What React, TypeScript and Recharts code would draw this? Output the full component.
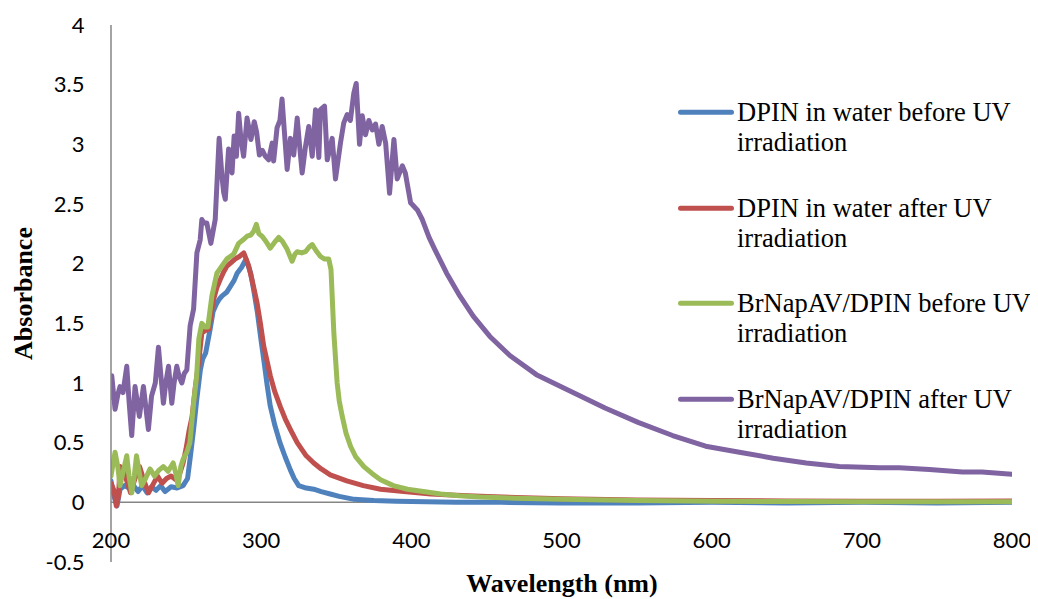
import React from 'react';
import { LineChart, Line, XAxis, YAxis, ReferenceLine } from 'recharts';

// DPIN in water before UV irradiation
const wlBlue = [200, 202, 204, 206, 209, 212, 215, 218, 221, 224, 227, 230, 233, 236, 240, 244, 248, 251, 253, 255, 257, 259.5, 261, 263, 266, 268, 270.5, 272, 274, 277, 279.5, 282, 284, 287, 289.5, 291, 293, 295, 297.5, 300, 302, 304, 306, 309, 312.5, 316, 319.5, 322, 325, 330, 335, 340, 346, 352, 362, 375, 390, 410, 430, 460, 500, 550, 600, 650, 700, 750, 800];
const absBlue = [0.18, 0.05, -0.03, 0.11, 0.14, 0.12, 0.14, 0.09, 0.14, 0.08, 0.13, 0.1, 0.14, 0.09, 0.13, 0.12, 0.14, 0.2, 0.4, 0.61, 0.85, 1.11, 1.2, 1.25, 1.45, 1.6, 1.67, 1.7, 1.73, 1.76, 1.81, 1.86, 1.92, 1.97, 2.03, 2.0, 1.92, 1.78, 1.59, 1.35, 1.17, 0.98, 0.81, 0.65, 0.5, 0.38, 0.27, 0.2, 0.14, 0.12, 0.11, 0.09, 0.07, 0.05, 0.025, 0.015, 0.01, 0.005, 0.0, 0.0, -0.005, -0.005, 0.0, -0.005, 0.0, -0.005, 0.0];

// DPIN in water after UV irradiation
const wlRed = [200, 202, 203.5, 205, 206, 208, 210, 213, 216, 219, 222, 225, 228, 231, 234, 237, 240, 243, 246, 248, 250, 252, 254, 256, 258.3, 260.5, 263, 265, 268.3, 270.5, 272.8, 275, 277.2, 280, 282.8, 285.5, 288.4, 290, 291.7, 294, 297.3, 299.5, 301.7, 304, 306.1, 309, 312.8, 316, 319.5, 324, 330, 335, 340, 346, 357, 368, 379.5, 395, 413, 430, 446, 470, 500, 550, 600, 650, 700, 750, 800];
const absRed = [0.16, 0.1, -0.03, 0.05, 0.3, 0.26, 0.2, 0.08, 0.2, 0.3, 0.18, 0.08, 0.15, 0.22, 0.16, 0.2, 0.22, 0.19, 0.25, 0.33, 0.45, 0.6, 0.72, 0.95, 1.17, 1.42, 1.44, 1.45, 1.7, 1.8, 1.87, 1.93, 1.98, 2.01, 2.04, 2.06, 2.09, 2.04, 1.98, 1.86, 1.67, 1.5, 1.31, 1.18, 1.06, 0.93, 0.8, 0.7, 0.61, 0.5, 0.39, 0.33, 0.28, 0.23, 0.18, 0.14, 0.11, 0.09, 0.07, 0.06, 0.05, 0.04, 0.03, 0.02, 0.015, 0.012, 0.01, 0.01, 0.012];

// BrNapAV/DPIN before UV irradiation
const wlGreen = [200, 202.7, 204.5, 206, 208, 210.5, 212, 213.8, 215.5, 217, 218.8, 220.4, 223, 226, 229, 232, 234.8, 238, 241.4, 243, 244.7, 246.5, 248, 250.5, 252.5, 255, 257, 258.5, 260.5, 262.5, 264.5, 267.2, 270.5, 273.9, 277.2, 281.7, 285, 288, 290.6, 293, 295, 296.8, 298.5, 300.6, 303, 306, 309, 311.7, 314, 317.3, 320.6, 322.5, 324, 327, 329.5, 332, 334, 336.5, 339.5, 342, 345, 346.5, 348.4, 350.6, 352, 354, 356.5, 359.5, 363, 368.4, 374, 379.5, 388, 397.4, 408, 419.6, 432, 446, 470, 500, 550, 600, 650, 700, 750, 800];
const absGreen = [0.22, 0.42, 0.3, 0.14, 0.25, 0.39, 0.22, 0.08, 0.22, 0.39, 0.25, 0.14, 0.2, 0.28, 0.22, 0.27, 0.3, 0.26, 0.33, 0.25, 0.14, 0.3, 0.36, 0.42, 0.5, 0.83, 1.05, 1.37, 1.5, 1.47, 1.47, 1.73, 1.92, 1.98, 2.04, 2.08, 2.17, 2.2, 2.23, 2.24, 2.27, 2.33, 2.25, 2.23, 2.19, 2.13, 2.18, 2.22, 2.19, 2.12, 2.02, 2.08, 2.1, 2.09, 2.1, 2.14, 2.16, 2.11, 2.06, 2.04, 2.04, 1.95, 1.42, 1.0, 0.85, 0.72, 0.58, 0.47, 0.38, 0.3, 0.24, 0.19, 0.14, 0.11, 0.09, 0.07, 0.055, 0.045, 0.035, 0.025, 0.015, 0.01, 0.007, 0.005, 0.005, 0.005];

// BrNapAV/DPIN after UV irradiation
const wlPurple = [200, 200.5, 202.7, 204.5, 206, 208, 210.5, 212, 213.8, 216, 218.9, 221.6, 224.9, 227, 229.5, 231.6, 233.3, 234.9, 236.5, 238.3, 240.5, 242, 243.8, 245.5, 247.2, 248.8, 250.5, 252.7, 255, 257.2, 259.4, 260.5, 262, 263.8, 266.5, 269.4, 272, 273.9, 275, 276.1, 278.3, 280.6, 282, 283.5, 285, 286.5, 288.3, 290.6, 293.2, 295.4, 297, 298.8, 300.8, 302.8, 305, 307.3, 308.3, 310.6, 312.5, 313.9, 315.5, 317.3, 319.5, 321.7, 324, 325.5, 327.3, 329.5, 331.7, 334, 336.2, 338.4, 339.5, 342.2, 344, 347.3, 349.5, 352.8, 355, 357.3, 359.4, 361.7, 363.3, 365.5, 367.3, 369.5, 371.7, 374, 376.2, 378.4, 380.6, 382.9, 385.5, 388.4, 390.6, 394, 396, 399.5, 404, 407.3, 411.8, 415.6, 423.5, 432.3, 441.2, 452.3, 465.6, 483.3, 507, 529, 551, 574, 596, 618.5, 641, 663, 685, 712, 725, 745, 767, 780, 800];
const absPurple = [0.88, 1.06, 0.78, 0.9, 0.97, 0.92, 1.14, 0.85, 0.56, 0.97, 0.72, 0.97, 0.61, 0.89, 1.0, 1.3, 1.05, 0.83, 1.0, 1.14, 0.83, 1.0, 1.14, 1.05, 1.0, 1.08, 1.11, 1.48, 1.62, 2.09, 2.2, 2.37, 2.34, 2.34, 2.17, 2.37, 3.05, 2.73, 2.6, 2.54, 2.96, 2.76, 3.07, 2.9, 3.26, 3.05, 2.9, 3.22, 3.04, 3.19, 3.1, 2.91, 2.95, 2.9, 2.87, 3.01, 2.86, 3.14, 3.2, 3.38, 3.1, 2.79, 3.05, 2.91, 3.22, 3.0, 2.76, 2.98, 3.15, 2.9, 3.29, 2.89, 3.29, 3.32, 2.87, 3.05, 2.71, 3.01, 3.18, 3.25, 3.2, 3.43, 3.51, 3.0, 3.24, 3.08, 3.2, 3.12, 3.17, 3.0, 3.15, 3.01, 2.59, 3.04, 2.71, 2.82, 2.76, 2.51, 2.45, 2.37, 2.22, 2.12, 1.92, 1.73, 1.56, 1.39, 1.23, 1.07, 0.925, 0.79, 0.67, 0.56, 0.47, 0.42, 0.37, 0.33, 0.3, 0.29, 0.29, 0.275, 0.255, 0.255, 0.235];

const seriesNames = [
  'DPIN in water before UV irradiation',
  'DPIN in water after UV irradiation',
  'BrNapAV/DPIN before UV irradiation',
  'BrNapAV/DPIN after UV irradiation',
];
const seriesColors = ['#4F81BD', '#C0504D', '#9BBB59', '#8064A2'];
const xTicks = [200, 300, 400, 500, 600, 700, 800];
const yTicks = [-0.5, 0, 0.5, 1, 1.5, 2, 2.5, 3, 3.5, 4];

const zip = (w: number[], a: number[]) => w.map((x, i) => ({ wl: x, abs: a[i] }));
const seriesData = [zip(wlBlue, absBlue), zip(wlRed, absRed), zip(wlGreen, absGreen), zip(wlPurple, absPurple)];

const tickFont = 'Lato, "Open Sans", sans-serif';
const serif = '"Liberation Serif", "Times New Roman", serif';

const XTick = (props: any) => {
  const { x, y, payload } = props;
  return (
    <text x={x} y={y - 22} dy="0.35em" textAnchor="middle" fontFamily={tickFont} fontSize={22} fill="#000">
      {payload.value}
    </text>
  );
};

const YTick = (props: any) => {
  const { x, y, payload } = props;
  return (
    <text x={x - 26.5} y={y} dy="0.35em" textAnchor="end" fontFamily={tickFont} fontSize={22} fill="#000">
      {payload.value}
    </text>
  );
};

export default function App() {
  return (
    <div style={{ position: 'relative', width: 1030, height: 591 }}>
      <LineChart width={1030} height={591} margin={{ top: 17, right: 26, bottom: 0, left: 0 }}>
        <XAxis
          dataKey="wl"
          type="number"
          domain={[200, 800]}
          ticks={xTicks}
          allowDataOverflow
          axisLine={false}
          tickLine={false}
          tickSize={0}
          tickMargin={0}
          height={37}
          tick={<XTick />}
          label={{
            content: () => (
              <text x={554} y={584} textAnchor="middle" fontFamily={serif} fontWeight="bold" fontSize={26} fill="#000">
                Wavelength (nm)
              </text>
            ),
          }}
        />
        <YAxis
          type="number"
          domain={[-0.5, 4]}
          ticks={yTicks}
          allowDataOverflow
          width={103}
          axisLine={{ stroke: '#868686', strokeWidth: 1.5 }}
          tickLine={false}
          tickSize={0}
          tickMargin={0}
          tick={<YTick />}
          label={{
            content: () => (
              <text x={24} y={285.5} transform="rotate(-90 24 285.5)" textAnchor="middle" fontFamily={serif} fontWeight="bold" fontSize={26} fill="#000">
                Absorbance
              </text>
            ),
          }}
        />
        <ReferenceLine y={0} stroke="#868686" strokeWidth={1.5} />
        {seriesData.map((d, i) => (
          <Line
            key={seriesNames[i]}
            data={d}
            dataKey="abs"
            name={seriesNames[i]}
            type="linear"
            stroke={seriesColors[i]}
            strokeWidth={5}
            strokeLinejoin="round"
            strokeLinecap="round"
            dot={false}
            activeDot={false}
            isAnimationActive={false}
          />
        ))}
      </LineChart>
      {seriesNames.map((n, i) => (
        <div key={n} style={{ position: 'absolute', left: 670, top: 89 + i * 95.5, width: 360 }}>
          <svg width={56} height={30} style={{ position: 'absolute', left: 0, top: 0 }}>
            <line x1={2.5} y1={15.2} x2={53.5} y2={15.2} stroke={seriesColors[i]} strokeWidth={5} strokeLinecap="round" />
          </svg>
          <div
            style={{
              position: 'absolute',
              left: 59,
              top: 0,
              fontFamily: serif,
              fontSize: 26.5,
              lineHeight: '30px',
              whiteSpace: 'pre',
              color: '#000',
            }}
          >
            {n.replace(' irradiation', '\nirradiation')}
          </div>
        </div>
      ))}
    </div>
  );
}
